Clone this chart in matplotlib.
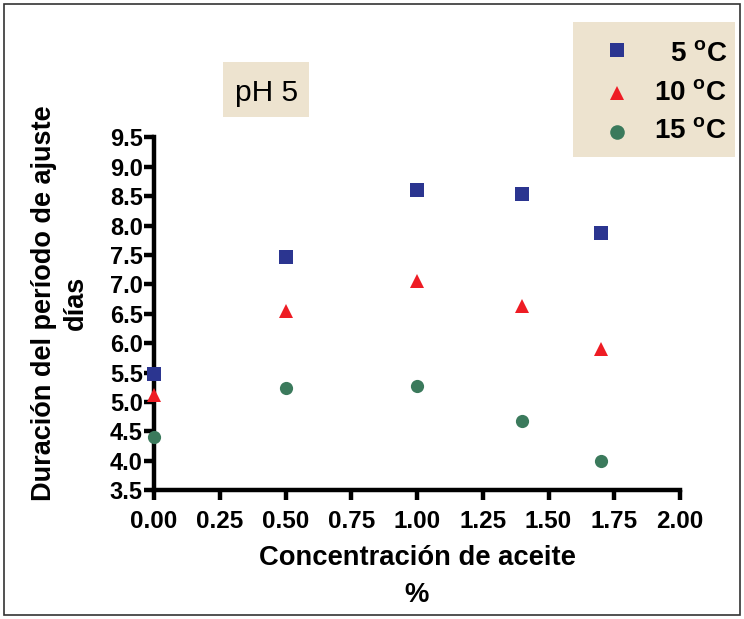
import matplotlib
matplotlib.use("Agg")
import matplotlib.pyplot as plt
from matplotlib.patches import Rectangle

# data
conc = [0.0, 0.5, 1.0, 1.4, 1.7]
dur_5c = [5.48, 7.47, 8.61, 8.53, 7.88]
dur_10c = [5.12, 6.55, 7.05, 6.64, 5.90]
dur_15c = [4.40, 5.24, 5.27, 4.68, 4.00]
labels = ["5 $^{\\mathbf{o}}$C", "10 $^{\\mathbf{o}}$C", "15 $^{\\mathbf{o}}$C"]
x_ticks = [0.0, 0.25, 0.5, 0.75, 1.0, 1.25, 1.5, 1.75, 2.0]
y_ticks = [3.5, 4.0, 4.5, 5.0, 5.5, 6.0, 6.5, 7.0, 7.5, 8.0, 8.5, 9.0, 9.5]

plt.rcParams["font.family"] = ["Liberation Sans", "DejaVu Sans"]
plt.rcParams["mathtext.fontset"] = "custom"
plt.rcParams["mathtext.rm"] = "Liberation Sans"
plt.rcParams["mathtext.bf"] = "Liberation Sans:bold"

BEIGE = "#ede3cf"

fig = plt.figure(figsize=(7.44, 6.19), dpi=100)
fig.patch.set_facecolor("white")
# outer frame
fig.add_artist(Rectangle((0.005, 0.006), 0.99, 0.988, transform=fig.transFigure,
                         fill=False, edgecolor="#333333", linewidth=1.2))

ax = fig.add_axes([0.207, 0.208, 0.707, 0.570])

series = [
    (dur_5c, "s", "#2b3590"),
    (dur_10c, "^", "#ee1c24"),
    (dur_15c, "o", "#3b7a5c"),
]
for vals, m, c in series:
    ax.plot(conc, vals, linestyle="none", marker=m, color=c, markersize=9.5,
            markeredgewidth=0, clip_on=False, zorder=3)

ax.set_xlim(0, 2.0)
ax.set_ylim(3.5, 9.5)
ax.set_xticks(x_ticks)
ax.set_xticklabels([f"{v:.2f}" for v in x_ticks])
ax.set_yticks(y_ticks)
ax.set_yticklabels([f"{v:.1f}" for v in y_ticks])

for side in ["top", "right"]:
    ax.spines[side].set_visible(False)
for side in ["left", "bottom"]:
    ax.spines[side].set_linewidth(3.2)
ax.tick_params(axis="both", direction="out", length=7, width=3.2)
ax.tick_params(axis="x", labelsize=17.5, pad=7)
ax.tick_params(axis="y", labelsize=17, pad=1)
for lab in ax.get_xticklabels() + ax.get_yticklabels():
    lab.set_fontweight("bold")

ax.set_xlabel("Concentración de aceite\n%", fontsize=19.7, fontweight="bold",
              labelpad=9, linespacing=1.55)
ax.set_ylabel("Duración del período de ajuste\ndías", fontsize=19.5,
              fontweight="bold", linespacing=1.3)
ax.yaxis.set_label_coords(-0.124, 0.53)

# pH label box
fig.add_artist(Rectangle((0.2997, 0.811), 0.1156, 0.089, transform=fig.transFigure,
                         facecolor=BEIGE, edgecolor="none"))
fig.text(0.358, 0.849, "pH 5", fontsize=21.5, ha="center", va="center")

# legend box
fig.add_artist(Rectangle((0.770, 0.746), 0.218, 0.218, transform=fig.transFigure,
                         facecolor=BEIGE, edgecolor="none"))
marker_y = [0.919, 0.850, 0.787]
text_y = [0.911, 0.848, 0.787]
for (vals, m, c), lab, my, ty in zip(series, labels, marker_y, text_y):
    fig.add_artist(plt.Line2D([0.829], [my], transform=fig.transFigure,
                              marker=m, color=c, markersize=10.5,
                              markeredgewidth=0, linestyle="none"))
    fig.text(0.977, ty, lab, fontsize=20, fontweight="bold",
             ha="right", va="center")

fig.savefig("out.png", dpi=100)
